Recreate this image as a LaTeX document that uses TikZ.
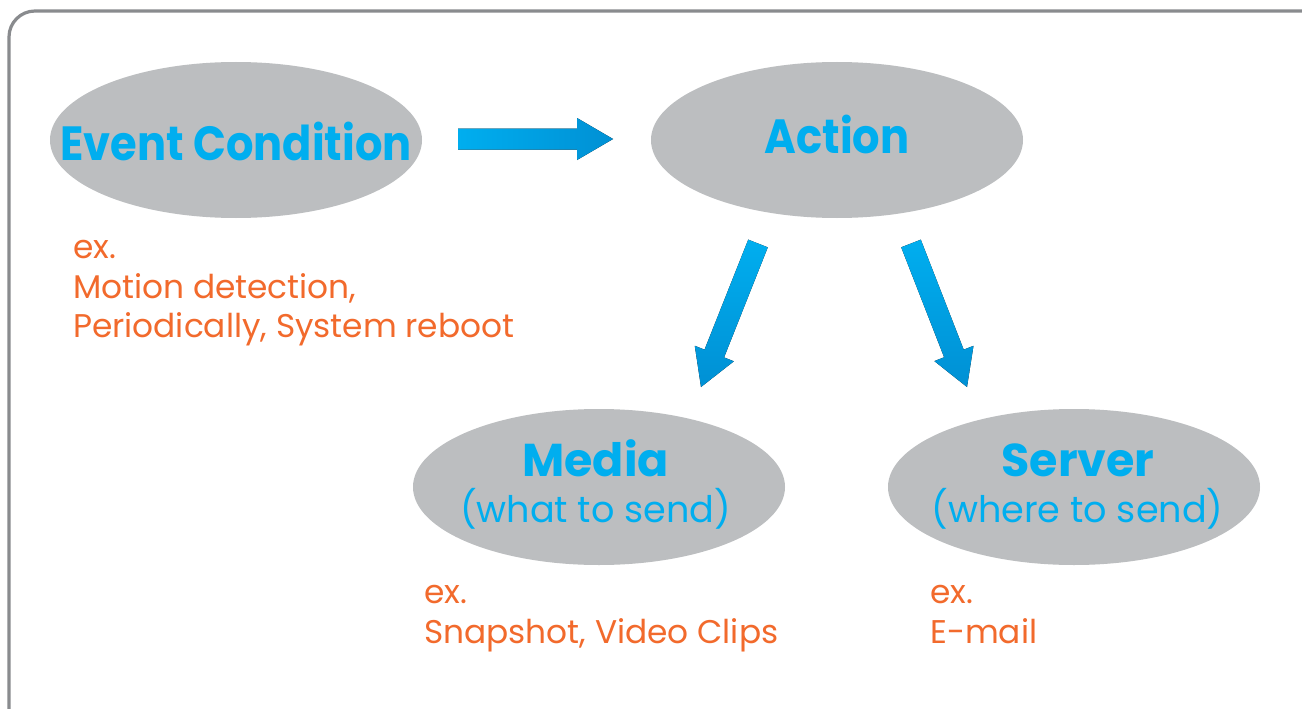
\documentclass[tikz,border=0pt]{standalone}
\usepackage{fontspec}
\setmainfont{Poppins}
\newfontfamily\titlefont{Poppins}[FakeStretch=0.9]
\usetikzlibrary{calc,shapes.geometric}
\definecolor{cyantext}{HTML}{00AEEF}
\definecolor{orangetext}{HTML}{F26A2C}
\definecolor{ellgray}{HTML}{BCBEC0}
\definecolor{framegray}{HTML}{898B8E}
\definecolor{arrowlight}{HTML}{00AEEF}
\definecolor{arrowdark}{HTML}{0090D4}
\newcommand{\fatarrow}[3]{%
  \fill[#3]
    ($(#1)!10.5pt!90:(#2)$) --
    ($($(#2)!36pt!(#1)$)!10.5pt!90:(#2)$) --
    ($($(#2)!36pt!(#1)$)!21pt!90:(#2)$) --
    (#2) --
    ($($(#2)!36pt!(#1)$)!21pt!-90:(#2)$) --
    ($($(#2)!36pt!(#1)$)!10.5pt!-90:(#2)$) --
    ($(#1)!10.5pt!-90:(#2)$) -- cycle;}
\tikzset{
  bubble/.style={ellipse, fill=ellgray, minimum width=372pt, minimum height=156pt, inner sep=0pt},
  titletext/.style={text=cyantext, font=\titlefont\fontsize{48}{58}\selectfont\bfseries, anchor=base, inner sep=0pt},
  subtitle/.style={text=cyantext, font=\fontsize{46}{55}\selectfont\bfseries, anchor=base, inner sep=0pt},
  subnote/.style={text=cyantext, font=\fontsize{36.6}{44}\selectfont, anchor=base, inner sep=0pt},
  example/.style={text=orangetext, font=\fontsize{32.8}{40}\selectfont, anchor=base west, inner sep=0pt},
  hshade/.style={left color=arrowlight, right color=arrowdark},
  vshade/.style={top color=arrowlight, bottom color=arrowdark},
}
\begin{document}
\begin{tikzpicture}[x=1pt,y=-1pt]
\useasboundingbox (0,0) rectangle (1302,709);
\fill[white] (0,0) rectangle (1302,709);
\draw[framegray, line width=3.2pt, rounded corners=26pt] (9,11) rectangle (1330,740);

\node[bubble] (event) at (236,140) {};
\node[bubble] (action) at (837,140) {};
\node[bubble] (media) at (599,487) {};
\node[bubble] (server) at (1074,487) {};

\node[titletext] (eventlbl) at (236,160) {Event Condition};
\node[titletext] (actionlbl) at (837,153) {Action};
\node[subtitle] (medialbl) at (595.5,476) {Media};
\node[subnote] (medianote) at (595.5,522) {(what to send)};
\node[subtitle] (serverlbl) at (1078,476) {Server};
\node[subnote] (servernote) at (1077.5,522) {(where to send)};

\node[example] (ex1a) at (73,258) {ex.};
\node[example] (ex1b) at (73,298) {Motion detection,};
\node[example] (ex1c) at (73,337) {Periodically, System reboot};
\node[example] (ex2a) at (424,603) {ex.};
\node[example] (ex2b) at (424,643) {Snapshot, Video Clips};
\node[example] (ex3a) at (930,603) {ex.};
\node[example] (ex3b) at (930,643) {E-mail};

\coordinate (a1s) at (458,139);
\coordinate (a1e) at (613,139);
\coordinate (a2s) at (758,243.5);
\coordinate (a2e) at (701,387);
\coordinate (a3s) at (911,243.5);
\coordinate (a3e) at (967,387);
\fatarrow{a1s}{a1e}{hshade}
\fatarrow{a2s}{a2e}{vshade}
\fatarrow{a3s}{a3e}{vshade}
\end{tikzpicture}
\end{document}
